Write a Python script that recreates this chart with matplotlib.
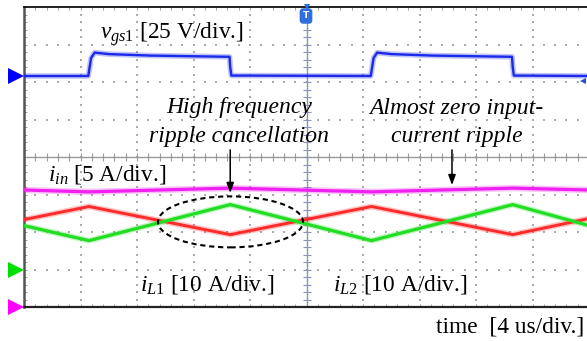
import numpy as np
import matplotlib
matplotlib.use("Agg")
import matplotlib.pyplot as plt
from matplotlib.patches import Ellipse
from matplotlib.transforms import blended_transform_factory

plt.rcParams["font.family"] = ["Liberation Serif", "DejaVu Serif"]
plt.rcParams["mathtext.fontset"] = "custom"
plt.rcParams["mathtext.rm"] = "Liberation Serif"
plt.rcParams["mathtext.it"] = "Liberation Serif:italic"

# ---- scope settings -------------------------------------------------------
t_per_div = 4.0          # us/div
n_xdiv, n_ydiv = 10, 8

vgs_scale, vgs_offset = 25.0, 2.16   # V/div, ground marker (div)
iin_scale, iin_offset = 5.0, -4.0    # A/div
il_scale, il_offset = 10.0, -3.0     # A/div
trig_level_v = -3.0                  # V on channel 1

# ---- waveforms (time in us) -----------------------------------------------
vgs_t = [0.0, 4.55, 4.75, 5.0, 6.0, 9.0, 14.55, 14.6, 14.68,
         24.55, 24.75, 25.0, 26.0, 29.0, 34.55, 34.6, 34.68, 40.0]
vgs_v = [0.0, 0.0, 12.0, 15.6, 14.6, 13.6, 12.8, 6.0, 0.3,
         0.0, 12.0, 15.6, 14.6, 13.6, 12.8, 6.0, 0.3, 0.0]

iin_t = [0.0, 4.6, 14.6, 24.6, 34.6, 40.0]
iin_a = [15.6, 15.35, 15.85, 15.35, 15.85, 15.6]

il1_t = [0.0, 4.6, 14.6, 24.6, 34.6, 40.0]
il1_a = [13.3, 16.8, 9.3, 16.8, 9.3, 13.6]

il2_t = [0.0, 4.6, 14.6, 24.6, 34.6, 40.0]
il2_a = [11.7, 7.7, 17.3, 7.7, 17.3, 11.7]

W, H = 587, 341
fig = plt.figure(figsize=(W / 100, H / 100), dpi=100)
fig.patch.set_facecolor("white")

# plot area: x 24..589 px, y 7..307 px (right edge runs off the figure)
ax = fig.add_axes([24 / W, (H - 307) / H, 565 / W, 300 / H])
x_max = n_xdiv * t_per_div
ax.set_xlim(0, x_max)
ax.set_ylim(-n_ydiv / 2, n_ydiv / 2)
ax.set_facecolor("white")


def px(x, y):
    return x / W, 1 - y / H


# ---- graticule ------------------------------------------------------------
grid_c = "#ababab"
ydots = np.arange(-4, 4.001, 0.2)
xdots = np.arange(0, x_max + 0.001, 0.8)
for xv in np.arange(t_per_div, x_max, t_per_div):
    if abs(xv - x_max / 2) < 1e-6:
        continue
    ax.scatter(np.full_like(ydots, xv), ydots, s=1.2, marker="s",
               color=grid_c, linewidths=0, zorder=1)
for yv in range(-3, 4):
    if yv == 0:
        continue
    ax.scatter(xdots, np.full_like(xdots, yv), s=1.2, marker="s",
               color=grid_c, linewidths=0, zorder=1)

ax.axvline(x_max / 2, color="#8e93b8", lw=1.0, zorder=1)
ax.axhline(0, color="#9a9a9a", lw=1.0, zorder=1)
ax.plot(np.full_like(ydots, x_max / 2), ydots, ls="none", marker="_",
        ms=6, mew=0.8, color="#8e93b8", zorder=1)
ax.plot(xdots, np.zeros_like(xdots), ls="none", marker="|",
        ms=6, mew=0.8, color="#9a9a9a", zorder=1)

ax.spines["right"].set_visible(False)
ax.spines["top"].set_color("#111111")
ax.spines["top"].set_linewidth(1.3)
ax.spines["bottom"].set_color("#222222")
ax.spines["bottom"].set_linewidth(1.6)
ax.spines["left"].set_color("#555555")
ax.spines["left"].set_linewidth(1.8)

ax.set_xticks(np.arange(0, x_max + 0.001, t_per_div))
ax.set_xticks(xdots, minor=True)
ax.set_yticks(np.arange(-4, 4.001, 1))
ax.set_yticks(ydots, minor=True)
ax.tick_params(which="both", direction="in", top=True, right=False,
               labelbottom=False, labelleft=False, color="#a0a0a0",
               width=0.7, length=2.5)

# ---- traces ---------------------------------------------------------------
def trace(t, vals, scale, offset, color, core_lw=1.5, haze_lw=4.0):
    y = offset + np.asarray(vals) / scale
    ax.plot(t, y, color=color, lw=haze_lw, alpha=0.28,
            solid_joinstyle="round", zorder=3)
    ax.plot(t, y, color=color, lw=core_lw, solid_joinstyle="round", zorder=4)


trace(vgs_t, vgs_v, vgs_scale, vgs_offset, "#1a2ae8", 1.7, 4.0)
trace(iin_t, iin_a, iin_scale, iin_offset, "#f020f0", 2.3, 4.5)
trace(il1_t, il1_a, il_scale, il_offset, "#ff2a2a", 2.1, 4.2)
trace(il2_t, il2_a, il_scale, il_offset, "#22dd22", 2.3, 4.2)

# ---- channel ground markers ----------------------------------------------
bt = blended_transform_factory(fig.transFigure, ax.transData)
for yv, c in [(vgs_offset, "#0000ff"), (il_offset, "#00e000"),
              (iin_offset, "#ff00ff")]:
    ax.plot([15.5 / W], [yv], marker=">", ms=11, color=c, mew=0,
            transform=bt, clip_on=False, zorder=6)
ax.plot([583 / W], [vgs_offset + trig_level_v / vgs_scale], marker="<",
        ms=5, color="#2050e0", mew=0, transform=bt, clip_on=False, zorder=6)

# trigger position marker
ax.plot([x_max / 2], [4], marker="v", ms=5, color="#2f6fe0", mew=0,
        clip_on=False, zorder=6)
fig.text(*px(306, 16), "T", color="white", fontsize=6.5, fontweight="bold",
         family="DejaVu Sans", ha="center", va="center",
         bbox=dict(boxstyle="round,pad=0.28,rounding_size=0.3",
                   fc="#2f6fe0", ec="#2f6fe0"))

# ---- annotations ----------------------------------------------------------
fs = 16.8
fig.text(*px(100, 39), r"$\mathit{v}_{\mathit{gs1}}$ [25 V/div.]",
         fontsize=fs, va="baseline", ha="left")
fig.text(*px(48, 181), r"$\mathit{i}_{\mathit{in}}$ [5 A/div.]",
         fontsize=fs, va="baseline", ha="left")
fig.text(*px(140, 291), r"$\mathit{i}_{\mathit{L1}}$ [10 A/div.]",
         fontsize=fs, va="baseline", ha="left")
fig.text(*px(333, 291), r"$\mathit{i}_{\mathit{L2}}$ [10 A/div.]",
         fontsize=fs, va="baseline", ha="left")
fig.text(*px(436, 332), "time  [4 us/div.]",
         fontsize=fs, va="baseline", ha="left")

fi = 17
fig.text(*px(239, 113), "High frequency", fontsize=fi, style="italic",
         ha="center", va="baseline")
fig.text(*px(239, 142), "ripple cancellation", fontsize=fi, style="italic",
         ha="center", va="baseline")
fig.text(*px(456, 114), "Almost zero input-", fontsize=fi, style="italic",
         ha="center", va="baseline")
fig.text(*px(457, 142), "current ripple", fontsize=fi, style="italic",
         ha="center", va="baseline")

arrow = dict(arrowstyle="-|>,head_width=0.22,head_length=0.6",
             color="black", lw=1.1, shrinkA=0, shrinkB=0)
ax.annotate("", xy=(14.6, -0.96), xytext=(14.6, 0.19), arrowprops=arrow,
            zorder=7)
ax.annotate("", xy=(30.3, -0.75), xytext=(30.3, 0.19), arrowprops=arrow,
            zorder=7)

ax.add_patch(Ellipse((14.62, -1.73), 10.27, 1.36, fill=False, ec="black",
                     lw=1.5, ls=(0, (2.5, 1.8)), zorder=7))

fig.savefig("out.png", dpi=100)
